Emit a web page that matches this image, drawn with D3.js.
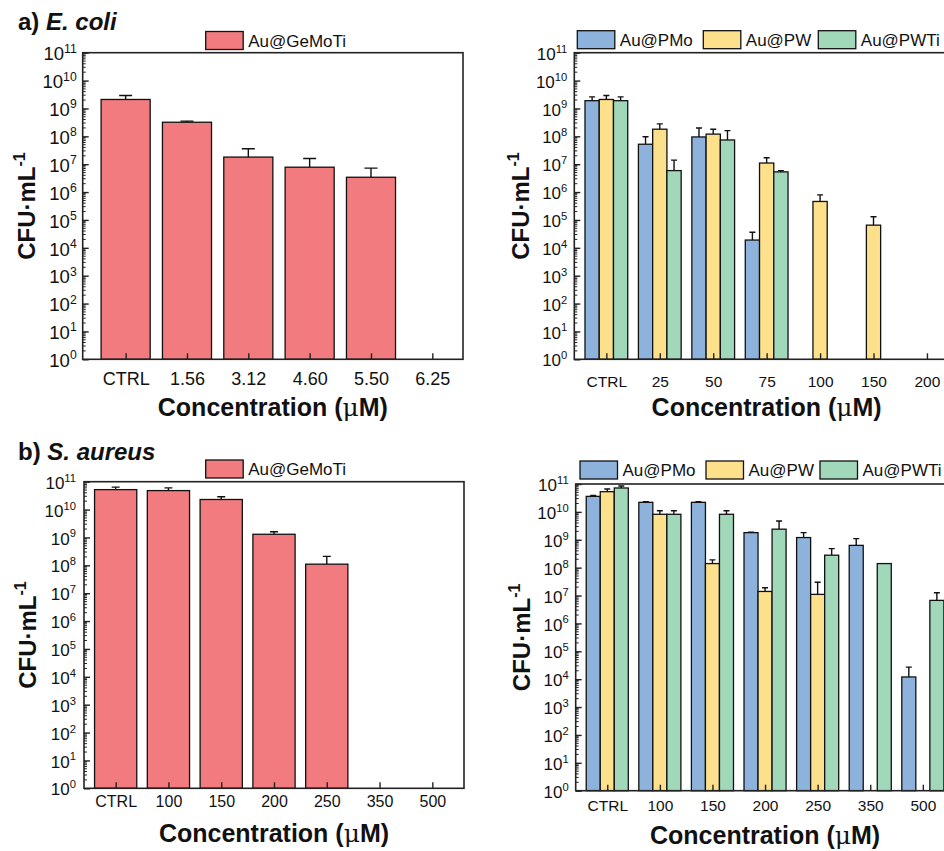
<!DOCTYPE html>
<html>
<head>
<meta charset="utf-8">
<script src="https://cdn.jsdelivr.net/npm/d3@7"></script>
<style>
  body { margin: 0; background: #fff; }
  svg { display: block; overflow: hidden; }
  text { font-family: "Liberation Sans", Arial, sans-serif; fill: #111; }
</style>
</head>
<body>
<svg id="chart" width="944" height="851"></svg>
<script>
// ---- data (CFU/mL, upper end of error bar in *Hi arrays, null = no growth) ----
var ecoliCatsA = ["CTRL", "1.56", "3.12", "4.60", "5.50", "6.25"];
var ecoliGeMoTi   = [2.1e9, 3.2e8, 1.8e7, 7.8e6, 3.4e6, null];
var ecoliGeMoTiHi = [2.9e9, 3.5e8, 3.6e7, 1.6e7, 7.2e6, null];

var ecoliCatsB = ["CTRL", "25", "50", "75", "100", "150", "200"];
var ecoliPMo    = [1.9e9, 5.2e7, 9.5e7, 1.9e4, null, null, null];
var ecoliPMoHi  = [2.6e9, 9.7e7, 2.0e8, 3.6e4, null, null, null];
var ecoliPW     = [2.1e9, 1.8e8, 1.2e8, 1.1e7, 4.6e5, 6.5e4, null];
var ecoliPWHi   = [2.9e9, 2.8e8, 1.8e8, 1.7e7, 7.9e5, 1.3e5, null];
var ecoliPWTi   = [1.9e9, 5.9e6, 7.4e7, 5.3e6, null, null, null];
var ecoliPWTiHi = [2.6e9, 1.4e7, 1.6e8, 5.9e6, null, null, null];

var saureusCats = ["CTRL", "100", "150", "200", "250", "350", "500"];
var saureusGeMoTi   = [5.2e10, 4.8e10, 2.3e10, 1.3e9, 1.1e8, null, null];
var saureusGeMoTiHi = [6.4e10, 6.0e10, 2.9e10, 1.6e9, 2.1e8, null, null];
var saureusPMo    = [3.6e10, 2.2e10, 2.2e10, 1.8e9, 1.2e9, 6.3e8, 1.2e4];
var saureusPMoHi  = [3.9e10, 2.3e10, 2.3e10, 1.85e9, 1.8e9, 1.1e9, 2.7e4];
var saureusPW     = [5.3e10, 8.2e9, 1.4e8, 1.4e7, 1.1e7, null, null];
var saureusPWHi   = [6.6e10, 1.1e10, 1.9e8, 1.9e7, 3.0e7, null, null];
var saureusPWTi   = [7.2e10, 8.2e9, 8.2e9, 2.4e9, 2.8e8, 1.4e8, 6.7e6];
var saureusPWTiHi = [8.5e10, 1.1e10, 1.1e10, 4.7e9, 4.8e8, 1.4e8, 1.26e7];

var yExponents = d3.range(0, 12); // 10^0 .. 10^11

var colors = { GeMoTi: "#F17B7E", PMo: "#8DB3DC", PW: "#FDE08B", PWTi: "#A1D8BA" };

var svg = d3.select("#chart");

function drawPanel(p) {
  var g = svg.append("g");
  var x = d3.scaleLinear().domain(p.xDomain).range([p.left, p.right]);
  var y = d3.scaleLog().domain([1, 1e11]).range([p.bottom, p.top]);
  var n = p.series.length;
  var bw = 0.8 / n;

  // bars + error bars
  p.series.forEach(function (s, si) {
    var off = (si - (n - 1) / 2) * bw;
    var items = s.values.map(function (v, i) { return { i: i + 1, v: v, hi: s.hi[i] }; })
      .filter(function (d) { return d.v != null; });

    g.append("g").selectAll("path")
      .data(items.filter(function (d) { return d.hi != null && d.hi > d.v; }))
      .enter().append("path")
      .attr("d", function (d) {
        var cx = x(d.i + off), c = p.cap / 2;
        return "M" + cx + "," + y(d.v) + "V" + y(d.hi) + "M" + (cx - c) + "," + y(d.hi) + "H" + (cx + c);
      })
      .attr("stroke", "#111").attr("stroke-width", 1.4).attr("fill", "none");

    g.append("g").selectAll("rect")
      .data(items)
      .enter().append("rect")
      .attr("x", function (d) { return x(d.i + off - bw / 2); })
      .attr("width", function (d) { return x(d.i + off + bw / 2) - x(d.i + off - bw / 2); })
      .attr("y", function (d) { return y(d.v); })
      .attr("height", function (d) { return y(1) - y(d.v); })
      .attr("fill", s.color).attr("stroke", "#111").attr("stroke-width", 1.3);
  });

  // minor ticks on the y axis
  var minors = [];
  for (var e = 0; e < 11; e++) for (var m = 2; m <= 9; m++) minors.push(m * Math.pow(10, e));
  g.append("g").selectAll("line").data(minors).enter().append("line")
    .attr("x1", p.left).attr("x2", p.left + 3)
    .attr("y1", function (d) { return y(d); }).attr("y2", function (d) { return y(d); })
    .attr("stroke", "#222").attr("stroke-width", 1);

  // major y ticks (inward)
  var yAxis = g.append("g").attr("transform", "translate(" + p.left + ",0)")
    .call(d3.axisLeft(y).tickValues(yExponents.map(function (k) { return Math.pow(10, k); }))
      .tickSize(-6).tickFormat(""));
  yAxis.select(".domain").remove();
  yAxis.selectAll(".tick line").attr("stroke", "#222").attr("stroke-width", 1.4);

  // y tick labels 10^k
  var yl = g.append("g").selectAll("text").data(yExponents).enter().append("text")
    .attr("x", p.left - p.labelGap)
    .attr("y", function (k) { return y(Math.pow(10, k)) + p.tickFont * 0.42; })
    .attr("text-anchor", "end")
    .style("font-size", p.tickFont + "px");
  yl.append("tspan").text("10");
  yl.append("tspan").attr("dy", -p.tickFont * 0.42).style("font-size", (p.tickFont * 0.66) + "px")
    .text(function (k) { return k; });

  // x ticks (inward) and labels
  var xAxis = g.append("g").attr("transform", "translate(0," + p.bottom + ")")
    .call(d3.axisBottom(x).tickValues(d3.range(1, p.cats.length + 1)).tickSize(-6)
      .tickFormat(function (d) { return p.cats[d - 1]; }));
  xAxis.select(".domain").remove();
  xAxis.selectAll(".tick line").attr("stroke", "#222").attr("stroke-width", 1.4);
  xAxis.selectAll(".tick text").attr("y", null).attr("dy", null)
    .attr("transform", "translate(0," + p.xLabelDy + ")")
    .style("font-size", p.xTickFont + "px")
    .style("font-family", '"Liberation Sans", Arial, sans-serif').attr("fill", "#111");

  // frame
  g.append("rect").attr("x", p.left).attr("y", p.top)
    .attr("width", p.right - p.left).attr("height", p.bottom - p.top)
    .attr("fill", "none").attr("stroke", "#222").attr("stroke-width", 1.6);

  // axis titles
  var yt = g.append("text")
    .attr("transform", "translate(" + p.yTitleX + "," + ((p.top + p.bottom) / 2) + ")rotate(-90)")
    .attr("text-anchor", "middle").style("font-size", "24px").style("font-weight", "bold");
  yt.append("tspan").text("CFU\u00B7mL");
  yt.append("tspan").attr("dy", -10).style("font-size", "16px").text("-1");

  var xt = g.append("text")
    .attr("x", (p.left + p.right) / 2).attr("y", p.xTitleY)
    .attr("text-anchor", "middle").style("font-size", "25px").style("font-weight", "bold");
  xt.append("tspan").text("Concentration (");
  xt.append("tspan").style("font-weight", "normal").style("font-family", '"DejaVu Serif", serif').text("\u03BC");
  xt.append("tspan").text("M)");

  // legend
  p.series.forEach(function (s, si) {
    var lx = p.legendX[si];
    g.append("rect").attr("x", lx).attr("y", p.legendY).attr("width", 37.5).attr("height", 18)
      .attr("fill", s.color).attr("stroke", "#111").attr("stroke-width", 1.3);
    g.append("text").attr("x", lx + 42.5).attr("y", p.legendY + 15)
      .style("font-size", "17px").text(s.name);
  });

  // panel title
  if (p.title) {
    var t = svg.append("text").attr("x", 18).attr("y", p.titleY)
      .style("font-size", "24px").style("font-weight", "bold");
    t.append("tspan").text(p.title[0] + " ");
    t.append("tspan").style("font-style", "italic").text(p.title[1]);
  }
}

drawPanel({
  title: ["a)", "E. coli"], titleY: 30,
  cats: ecoliCatsA, xDomain: [0.3, 6.5],
  left: 82.7, right: 463, top: 52.7, bottom: 359.3,
  series: [{ name: "Au@GeMoTi", color: colors.GeMoTi, values: ecoliGeMoTi, hi: ecoliGeMoTiHi }],
  cap: 13, tickFont: 18.5, labelGap: 6, xTickFont: 18, xLabelDy: 26,
  yTitleX: 35, xTitleY: 416, legendX: [205.7], legendY: 31.5
});

drawPanel({
  cats: ecoliCatsB, xDomain: [0.4, 7.6],
  left: 574.3, right: 959, top: 52.7, bottom: 359.3,
  series: [
    { name: "Au@PMo", color: colors.PMo, values: ecoliPMo, hi: ecoliPMoHi },
    { name: "Au@PW", color: colors.PW, values: ecoliPW, hi: ecoliPWHi },
    { name: "Au@PWTi", color: colors.PWTi, values: ecoliPWTi, hi: ecoliPWTiHi }
  ],
  cap: 6, tickFont: 17, labelGap: 7, xTickFont: 15.5, xLabelDy: 28,
  yTitleX: 529, xTitleY: 416, legendX: [577.3, 703.3, 818.3], legendY: 30.7
});

drawPanel({
  title: ["b)", "S. aureus"], titleY: 460,
  cats: saureusCats, xDomain: [0.4, 7.6],
  left: 84, right: 464, top: 481.7, bottom: 788.3,
  series: [{ name: "Au@GeMoTi", color: colors.GeMoTi, values: saureusGeMoTi, hi: saureusGeMoTiHi }],
  cap: 8, tickFont: 17, labelGap: 8, xTickFont: 16, xLabelDy: 19,
  yTitleX: 36, xTitleY: 842, legendX: [205.7], legendY: 460
});

drawPanel({
  cats: saureusCats, xDomain: [0.4, 7.6],
  left: 575.7, right: 954.4, top: 484, bottom: 790.7,
  series: [
    { name: "Au@PMo", color: colors.PMo, values: saureusPMo, hi: saureusPMoHi },
    { name: "Au@PW", color: colors.PW, values: saureusPW, hi: saureusPWHi },
    { name: "Au@PWTi", color: colors.PWTi, values: saureusPWTi, hi: saureusPWTiHi }
  ],
  cap: 6, tickFont: 17, labelGap: 7, xTickFont: 15.5, xLabelDy: 20,
  yTitleX: 530, xTitleY: 844, legendX: [580, 706, 820], legendY: 461
});
</script>
</body>
</html>
